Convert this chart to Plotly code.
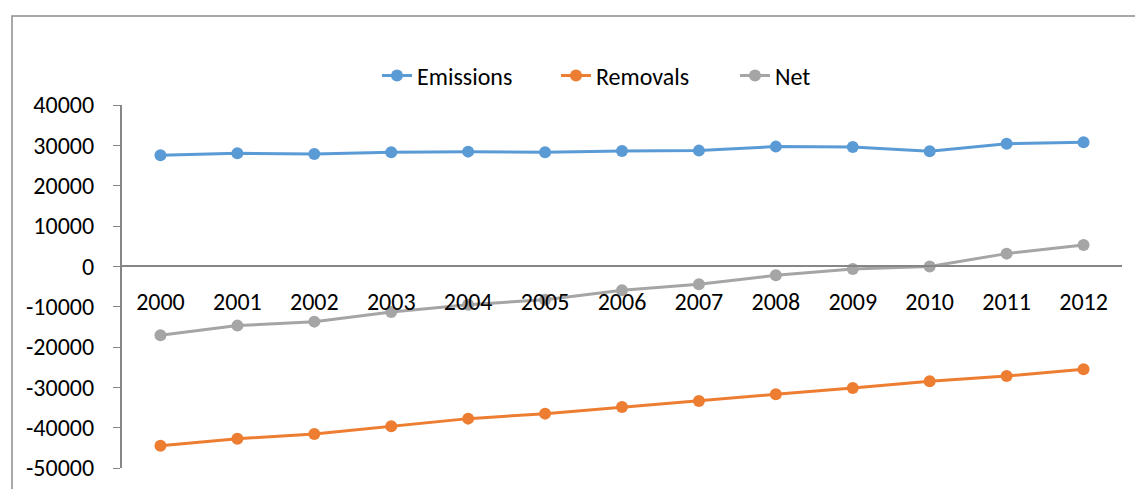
import plotly.graph_objects as go

years = ["2000", "2001", "2002", "2003", "2004", "2005", "2006",
         "2007", "2008", "2009", "2010", "2011", "2012"]
emissions = [27520, 28020, 27870, 28270, 28440, 28270, 28610,
             28690, 29680, 29600, 28520, 30420, 30750]
removals = [-44460, -42720, -41560, -39670, -37760, -36520, -34870,
            -33380, -31740, -30160, -28510, -27180, -25540]
net = [-17110, -14700, -13710, -11310, -9500, -8260, -5950,
       -4460, -2230, -650, -50, 3150, 5300]

y_ticks = [40000, 30000, 20000, 10000, 0, -10000, -20000, -30000, -40000, -50000]

FONT = "Carlito, Calibri, 'Open Sans', sans-serif"
FS = 24

series = [
    ("Emissions", emissions, "#5B9BD5"),
    ("Removals", removals, "#ED7D31"),
    ("Net", net, "#A5A5A5"),
]

fig = go.Figure()
for name, vals, color in series:
    fig.add_trace(go.Scatter(
        x=years, y=vals, name=name, mode="lines+markers",
        line=dict(color=color, width=3),
        marker=dict(color=color, size=12),
    ))

W, H = 1135, 489
ml, mr, mt, mb = 122, 13, 105, 21
pw, ph = W - ml - mr, H - mt - mb

def px_x(p):
    return (p - ml) / pw

def px_y(p):
    return (H - mb - p) / ph

fig.update_layout(
    width=W, height=H,
    margin=dict(l=ml, r=mr, t=mt, b=mb, autoexpand=False),
    paper_bgcolor="white", plot_bgcolor="white",
    font=dict(family=FONT, size=FS, color="#000000"),
    showlegend=True,
    legend=dict(
        orientation="h", x=px_x(377), y=px_y(76),
        xanchor="left", yanchor="middle",
        entrywidth=134, entrywidthmode="pixels",
        font=dict(family=FONT, size=FS, color="#000000"),
        bgcolor="rgba(0,0,0,0)",
    ),
    xaxis=dict(
        type="category", range=[-0.5, 12.5],
        anchor="free", position=5 / 9, automargin=False,
        showline=True, linecolor="#868686", linewidth=2,
        ticks="", showgrid=False, zeroline=False,
        ticklabelstandoff=14,
        tickfont=dict(family=FONT, size=FS, color="#000000"),
    ),
    yaxis=dict(
        range=[-50000, 40000], tickvals=y_ticks, automargin=False,
        ticktext=[str(v) for v in y_ticks],
        showline=True, linecolor="#868686", linewidth=2,
        ticks="outside", ticklen=7, tickcolor="#868686", tickwidth=1,
        showgrid=False, zeroline=False,
        ticklabelstandoff=14,
        tickfont=dict(family=FONT, size=FS, color="#000000"),
    ),
    shapes=[dict(
        type="rect", xref="paper", yref="paper",
        x0=px_x(12), x1=px_x(1150), y0=px_y(500), y1=px_y(16),
        line=dict(color="#8C8C8C", width=1.5), fillcolor="rgba(0,0,0,0)",
        layer="below",
    )],
)

fig.write_html("out.html")
